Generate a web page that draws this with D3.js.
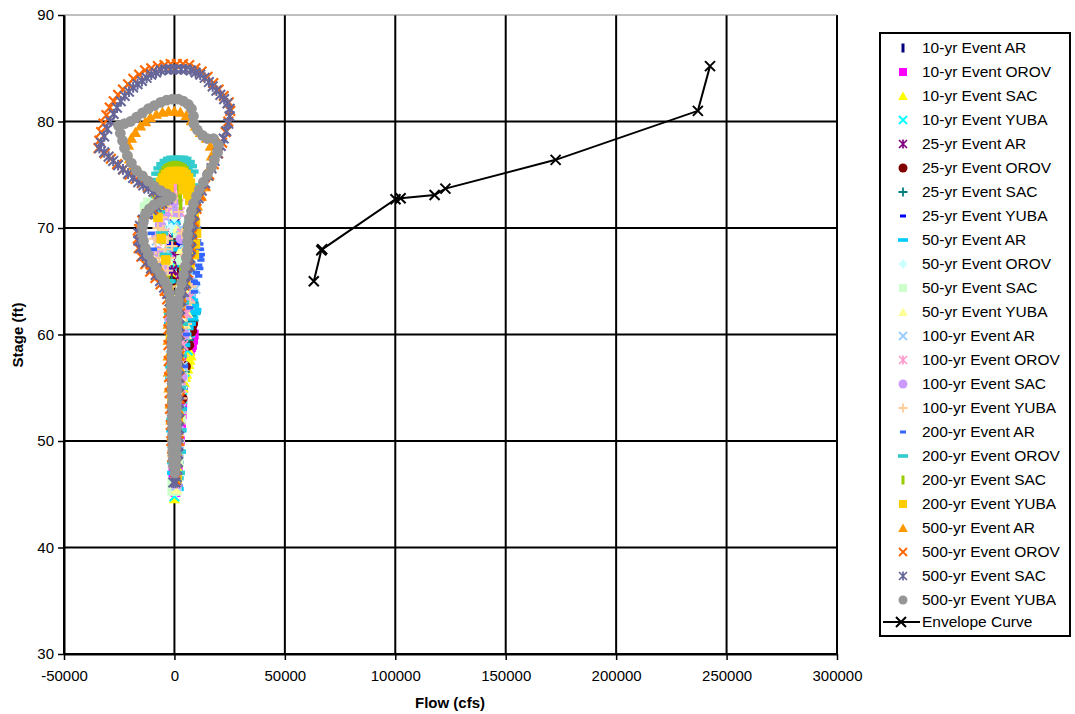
<!DOCTYPE html>
<html>
<head>
<meta charset="utf-8">
<script src="https://cdn.jsdelivr.net/npm/d3@7"></script>
<style>
  html, body { margin: 0; padding: 0; background: #fff; }
  svg { display: block; }
  text { font-family: "Liberation Sans", Arial, sans-serif; fill: #000; }
</style>
</head>
<body>
<svg id="chart" width="1075" height="714"></svg>
<script>
// ---- Stage-flow hysteresis, one array of [flow (cfs), stage (ft)] per event ----
const yr10AR = [[1000,45.8],[2500,52],[3500,58],[3000,63],[2000,66.5],[1500,68.5],[1000,69.5],[500,70],[0,69.8],[-500,68.5],[-1000,66],[-1200,62],[-1000,56],[-800,50]];
const yr10OROV = [[500,45.2],[1500,47.5],[2500,50],[3000,51.5],[3300,52.5],[3600,53.5],[4000,55],[5000,57],[6000,58],[7000,58.5],[7500,58.8],[8000,59.0],[8500,59.5],[8800,60.0],[8000,60.5],[6500,62],[5000,63.5],[3500,65],[2000,66.5],[1000,67.5],[0,67.8],[-1000,67],[-1500,65],[-1500,62],[-1200,58],[-1000,54],[-800,50],[-500,47]];
const yr10SAC = [[0,44.6],[700,45.5],[1500,47.5],[2200,50],[2500,51.2],[2800,52.5],[3000,53],[3500,54],[4000,55],[4500,55.5],[5000,56],[5500,56.3],[6000,56.8],[6500,57.2],[7000,57.6],[7500,58.0],[7000,58.4],[6500,59.5],[5000,61],[3500,63],[2000,65],[800,66.5],[-200,66.8],[-1000,65.5],[-1300,62],[-1200,58],[-1000,54],[-700,50],[-300,46.5]];
const yr10YUBA = [[0,44.8],[800,46],[1500,48.5],[2500,51.5],[3500,54],[4500,56.5],[6000,58.5],[6500,59.5],[7000,60.2],[7500,60.8],[8000,61.4],[8500,62.0],[7500,62.8],[6500,63.5],[5000,65],[3000,66.5],[1500,67.5],[0,67.8],[-1000,66.5],[-1500,63],[-1300,58],[-1000,53],[-700,49],[-300,46]];
const yr25AR = [[500,46],[1500,50],[2500,55],[3000,60],[2500,63],[2000,65.5],[1500,66.5],[1000,67.3],[800,68.0],[700,68.7],[600,69.4],[500,70.0],[300,70.5],[-200,70.3],[-800,69],[-1200,66],[-1300,62],[-1000,56],[-700,50]];
const yr25OROV = [[500,45.8],[2000,50],[3500,54],[5000,57],[6500,59],[7800,60.3],[8300,61.0],[7500,62.3],[5500,64],[3500,66],[2000,68],[800,69.5],[0,69.8],[-800,68.5],[-1300,65],[-1300,60],[-1000,54],[-700,49]];
const yr25SAC = [[300,45.5],[1500,49],[3000,53],[4500,56.5],[6500,59.5],[8500,61.3],[9500,62.0],[8500,63.0],[6500,64.5],[4500,66],[2500,68],[1000,69.5],[0,70],[-800,68.8],[-1300,65],[-1300,60],[-1000,54],[-600,49]];
const yr25YUBA = [[2000,45.8],[2500,48],[3000,52],[3500,56],[4500,60],[4500,63],[3500,66],[2500,68.5],[1800,69.8],[800,70.2],[-200,70.2],[-1200,69.8],[-2000,68.5],[-2300,66],[-2000,62],[-1500,57],[-1000,52],[-600,48]];
const yr50AR = [[1500,45.5],[2000,47],[2500,49],[2800,51],[3000,53],[3200,55],[3500,57],[4500,59],[5000,60],[6000,60.6],[7000,61],[8000,61.5],[9000,62],[9500,62.3],[8500,62.7],[8000,63.2],[7000,63.6],[6000,64],[5000,64.6],[4000,66.5],[2500,68],[1200,69.5],[0,70.5],[-1000,70.0],[-1800,68],[-2200,65],[-2000,61],[-1500,56],[-1000,51],[-600,47]];
const yr50OROV = [[1000,45.3],[2500,50],[3500,55],[4500,60],[4000,64],[2500,67],[1000,70],[0,71],[-1500,70],[-2500,67],[-2000,62],[-1500,56],[-800,50]];
const yr50SAC = [[-1000,45.3],[1000,45.3],[0,45.8],[-1000,46.1],[1000,46.1],[2000,48],[3000,52],[4000,56],[5000,60],[4500,64],[3000,67],[1500,69.5],[0,71.3],[-3000,71.8],[-8000,72.2],[-13500,72.0],[-12000,72.4],[-6000,70],[-3000,67],[-2200,63],[-1700,58],[-1200,52],[-800,48]];
const yr50YUBA = [[800,45.5],[2000,49],[3000,53],[4000,57],[5000,61],[5500,60],[6000,62],[6500,62.8],[6000,63.5],[5500,64.3],[4500,66],[3000,68],[1500,70],[0,71.3],[-2000,71.8],[-4000,71.8],[-6000,71.5],[-8000,71.2],[-7000,70.3],[-5000,69],[-3000,67],[-2000,64],[-1800,60],[-1300,55],[-800,50]];
const yr100AR = [[1000,45.8],[2000,49],[3000,53],[3800,57],[4500,60],[4500,62],[5500,62.8],[6500,63.5],[7500,64],[8500,64.6],[9500,64.3],[9000,65.2],[8500,65.8],[7500,66.4],[6000,67.2],[4500,68.5],[3000,70],[1500,71.5],[0,72.2],[-2000,72.0],[-4000,71.0],[-6000,70.0],[-8000,68.8],[-7000,67.5],[-5000,66],[-3000,64.5],[-2000,62],[-1600,58],[-1200,53],[-800,49]];
const yr100OROV = [[800,46],[2000,50],[3000,55],[4000,59],[5500,62],[7000,63.5],[6500,65],[5000,67],[3500,69.5],[2500,71.5],[1800,73.0],[1500,73.8],[1000,74.2],[0,74.0],[-1500,73.0],[-3000,71.5],[-4500,69.5],[-5000,67],[-3500,64.5],[-2200,62],[-1600,57],[-1200,52],[-700,48]];
const yr100SAC = [[1000,46],[2500,51],[3500,56],[4500,60],[5000,63],[4500,66],[3000,69],[1500,71.5],[0,72.5],[-2000,72.3],[-4500,71.2],[-6500,70.3],[-8000,69.2],[-7500,67.8],[-5500,66.2],[-3500,64.5],[-2200,61.5],[-1600,57],[-1100,52],[-700,48]];
const yr100YUBA = [[1000,46],[2200,50],[3200,54],[4200,58],[5500,61],[7000,63],[7500,64.5],[6500,66],[5000,67.5],[3500,69.5],[2000,71.5],[500,72.8],[-1500,72.8],[-3500,72.0],[-5500,71.0],[-7500,70.0],[-9000,69.0],[-8500,68.0],[-7000,67.2],[-5000,66.6],[-3000,66.0],[-2000,64.5],[-1800,62],[-1500,58],[-1200,53],[-800,49],[-6000,68.8],[-4000,68.0],[-2000,67.2],[-5000,69.8],[-3000,69.0],[-1000,68.3]];
const yr200AR = [[1500,46],[2500,49],[3500,53],[4500,57],[5500,60],[7000,62.5],[9000,64],[9000,65],[10000,64.8],[10000,65.8],[11000,65.5],[11000,66.5],[11500,66.2],[11500,67.3],[12000,67],[12200,67.5],[11800,68.0],[11000,68],[11500,68.5],[10500,68.8],[10500,70],[9500,71.5],[8000,73],[6000,74.5],[3500,75.2],[1000,75.5],[-1500,75.3],[-4000,74.5],[-6500,73.5],[-8500,72.3],[-10000,71],[-10500,69.5],[-9500,68],[-7500,66.5],[-5000,65.2],[-3000,64],[-2200,61],[-1800,57],[-1300,52],[-800,48]];
const yr200OROV = [[1500,46.5],[2000,47],[2200,49],[2300,51],[2400,53],[2500,55],[3000,58],[3500,61],[4000,63],[5500,66],[6500,68.5],[7000,70.5],[7500,72.5],[8200,74.0],[8200,75.3],[7500,75.8],[6500,76.2],[5000,76.5],[3500,76.6],[2000,76.6],[500,76.6],[-1000,76.6],[-2500,76.5],[-4000,76.3],[-5500,76.0],[-6800,75.6],[-7800,75.1],[-8400,74.5],[-8600,73.8],[7000,75.0],[5500,75.5],[4000,75.9],[2500,76.1],[1000,76.2],[-500,76.2],[-2000,76.1],[-3500,75.9],[-5000,75.6],[-6500,75.1],[-7500,74.5],[-8000,73.0],[-7000,71.5],[-5500,69.5],[-4000,67.5],[-2800,65],[-2000,62],[-1500,57],[-1000,52],[-600,48]];
const yr200SAC = [[1000,47],[1500,52],[1800,57],[2000,62],[3000,66],[5000,70],[6500,73],[7400,74.6],[6600,75.0],[5700,75.3],[4800,75.5],[3900,75.6],[3000,75.7],[2100,75.75],[1200,75.8],[300,75.8],[-600,75.8],[-1500,75.75],[-2400,75.7],[-3300,75.6],[-4200,75.5],[-5100,75.3],[-6000,75.0],[-6800,74.6],[-7400,74.1],[2000,74.0],[2300,73.4],[2600,72.8],[2800,72.2],[-7000,72.5],[-5000,69],[-3000,65],[-1500,60],[-1000,53],[-500,48]];
const yr200YUBA = [[1200,46.5],[1800,52],[2200,58],[3000,63],[5000,65],[7000,66.5],[9000,67.5],[9500,68.5],[10000,69.5],[9500,70.5],[9000,71.5],[7500,73.6],[7200,74.2],[6400,74.7],[5300,75.0],[4000,75.2],[2700,75.3],[1400,75.3],[100,75.3],[-1200,75.3],[-2500,75.2],[-3800,75.0],[-5100,74.7],[-6300,74.3],[-7300,73.8],[-7900,73.2],[5500,74.2],[3500,74.5],[-500,74.6],[-2500,74.5],[-4500,74.2],[-6000,73.7],[4000,73.6],[6000,73.2],[7000,72.6],[-2500,73.6],[-4500,73.8],[-6500,73.4],[-5000,73.0],[-6500,72.2],[-7500,71],[-6000,69],[-4000,67],[-2500,64],[-1800,60],[-1200,54],[-700,49]];
const yr500AR = [[500,47.5],[1200,49],[1600,51],[1800,53],[1900,55],[2000,57],[2000,59],[2100,61],[2300,63],[2700,64.2],[4500,65.6],[6300,67.0],[7200,68.4],[7700,69.8],[8600,70.9],[10400,72.1],[12200,73.0],[14000,73.9],[15400,74.9],[16300,75.8],[16800,76.8],[16300,77.7],[14500,78.45],[11800,79.0],[9500,79.6],[7700,80.1],[5400,80.6],[2700,80.9],[0,81.0],[-2700,81.0],[-5400,80.9],[-8200,80.7],[-10900,80.4],[-13100,80.0],[-15400,79.6],[-17700,79.0],[-19500,78.45],[-20800,77.8],[-21300,77.1],[-20400,76.5],[-18600,75.9],[-15900,75.35],[-13100,74.8],[-10400,74.3],[-7700,73.85],[-5000,73.5],[-2300,73.1],[-5400,72.5],[-8600,72.3],[-11300,71.9],[-13600,71.3],[-14900,70.7],[-15400,70.0],[-14900,69.25],[-14000,68.5],[-12200,67.8],[-10400,67.2],[-8200,66.5],[-5900,65.9],[-4100,65.2],[-2700,64.6],[-2300,63.8],[-2600,62.5],[-2800,61],[-2800,59.5],[-2800,58],[-2700,56.5],[-2400,55],[-2000,53.5],[-1600,52],[-1200,50.5],[-800,49]];
const yr500OROV = [[500,46.3],[1500,48],[2000,50],[2200,52],[2300,54],[2300,56],[2300,58],[2400,60],[2600,62],[3200,63.5],[4500,64.6],[6000,65.8],[7000,67.0],[7500,68.2],[8000,69.4],[8800,70.6],[10000,71.8],[11800,73.0],[13800,74.0],[15800,75.0],[17800,76.0],[19800,77.0],[21600,78.0],[23200,79.0],[24400,80.0],[25300,81.0],[24600,81.8],[22300,82.4],[20000,83.0],[17600,83.6],[15000,84.2],[12300,84.7],[9500,85.0],[6700,85.3],[3900,85.4],[1100,85.4],[-1700,85.4],[-4500,85.3],[-7500,85.2],[-10500,85.0],[-13300,84.8],[-16000,84.4],[-18600,84.0],[-21000,83.5],[-23300,83.0],[-25500,82.5],[-27500,81.9],[-29300,81.3],[-30800,80.6],[-32100,79.8],[-33200,79.0],[-34000,78.2],[-34400,77.5],[-31500,77.0],[-28800,76.5],[-26000,76.0],[-23200,75.5],[-20400,75.0],[-17600,74.6],[-14800,74.2],[-12000,73.8],[-9200,73.4],[-6400,73.1],[-3800,72.8],[-6600,72.2],[-9600,71.8],[-12400,71.3],[-14600,70.7],[-16000,69.9],[-16600,69.0],[-16200,68.1],[-15000,67.3],[-13200,66.6],[-11000,65.9],[-8600,65.3],[-6300,64.7],[-4400,64.1],[-3300,63.3],[-2800,62.0],[-2700,60.5],[-2700,59.0],[-2600,57.5],[-2400,56.0],[-2200,54.5],[-2000,53.0],[-1700,51.5],[-1400,50.0],[-1000,48.5]];
const yr500SAC = [[-500,46.1],[500,46.1],[1000,46.6],[1300,47.3],[1500,48.0],[1700,48.8],[1800,49.6],[1900,50.4],[1900,51.2],[2000,52.0],[2000,52.8],[2000,53.6],[2000,54.4],[2000,55.2],[2000,56.0],[2000,56.8],[2000,57.6],[2000,58.4],[2000,59.2],[2100,60.0],[2100,60.8],[2300,61.6],[2600,62.4],[3200,63.2],[4300,64.0],[5200,64.8],[6100,65.6],[6800,66.4],[7200,67.2],[7500,68.0],[7700,68.8],[8000,69.6],[8400,70.4],[9000,71.2],[9800,72.0],[11000,72.8],[12400,73.5],[13900,74.2],[15400,74.9],[16800,75.6],[18200,76.3],[19600,77.0],[21000,77.7],[22300,78.4],[23500,79.1],[24400,79.8],[25000,80.5],[25000,81.2],[24000,81.7],[22500,82.1],[20800,82.5],[19000,82.9],[17300,83.3],[15600,83.7],[13700,84.1],[11700,84.4],[9600,84.6],[7400,84.8],[5200,84.9],[3000,84.9],[700,84.9],[-1600,84.9],[-3900,84.9],[-6100,84.8],[-8300,84.6],[-10500,84.4],[-12600,84.1],[-14700,83.8],[-16700,83.5],[-18700,83.2],[-20600,82.8],[-22500,82.4],[-24300,81.9],[-26000,81.3],[-27500,80.7],[-29000,80.0],[-30400,79.3],[-31800,78.6],[-33200,78.0],[-34000,77.5],[-31800,77.1],[-29800,76.7],[-27700,76.3],[-25500,75.9],[-23300,75.5],[-21000,75.1],[-18700,74.7],[-16400,74.3],[-14100,74.0],[-11800,73.7],[-9500,73.4],[-7200,73.1],[-5000,72.9],[-3000,72.7],[-5500,72.3],[-8000,72.0],[-10300,71.7],[-12400,71.3],[-14200,70.8],[-15600,70.2],[-16300,69.5],[-16300,68.8],[-15600,68.1],[-14300,67.4],[-12600,66.8],[-10600,66.2],[-8500,65.6],[-6500,65.0],[-4700,64.4],[-3300,63.8],[-2200,63.1],[-1500,62.3],[-1300,61.0],[-1200,59.7],[-1100,58.4],[-1000,57.1],[-1000,55.8],[-900,54.5],[-900,53.2],[-800,51.9],[-700,50.6],[-600,49.3],[-400,48.0]];
const yr500YUBA = [[300,47.0],[500,47.6],[600,48.2],[700,48.8],[700,49.4],[800,50.0],[800,50.6],[900,51.2],[900,51.8],[900,52.4],[900,53.0],[1000,53.6],[1000,54.2],[1000,54.8],[1000,55.4],[1000,56.0],[1100,56.6],[1100,57.2],[1100,57.8],[1100,58.4],[1100,59.0],[1100,59.6],[1200,60.2],[1200,60.8],[1200,61.4],[1300,62.0],[1500,62.6],[1700,63.2],[2300,64.0],[3200,64.8],[4100,65.6],[5000,66.4],[5400,67.2],[5900,67.9],[5900,68.7],[5900,69.4],[6300,70.2],[6800,70.9],[7700,71.6],[8600,72.3],[10000,73.0],[11300,73.6],[13100,74.3],[14900,75.0],[16800,75.7],[18100,76.4],[19500,77.1],[19900,77.8],[17700,78.4],[14900,78.4],[12700,78.7],[10400,79.2],[8800,79.8],[8600,80.5],[7700,81.2],[6300,81.6],[4100,81.9],[1800,82.1],[-900,82.1],[-3600,82.0],[-6300,81.8],[-9100,81.5],[-11800,81.2],[-14500,80.8],[-17200,80.4],[-19900,80.0],[-22600,79.8],[-25300,79.6],[-24500,78.9],[-23500,78.2],[-22600,77.5],[-21300,76.8],[-19500,76.1],[-17200,75.4],[-14500,74.9],[-11800,74.4],[-9100,73.9],[-6300,73.5],[-3600,73.2],[-1400,72.9],[-3600,72.6],[-6300,72.4],[-9100,72.2],[-11300,71.8],[-13100,71.3],[-14000,70.7],[-14500,70.1],[-14500,69.4],[-14000,68.8],[-13100,68.1],[-11800,67.5],[-10000,66.8],[-8200,66.2],[-6300,65.6],[-4500,65.0],[-3200,64.5],[-2300,63.9],[-1700,63.2],[-1400,62.6],[-1300,62.0],[-1200,61.4],[-1200,60.8],[-1200,60.2],[-1100,59.6],[-1100,59.0],[-1100,58.4],[-1100,57.8],[-1100,57.2],[-1000,56.6],[-1000,56.0],[-1000,55.4],[-1000,54.8],[-1000,54.2],[-900,53.6],[-900,53.0],[-900,52.4],[-900,51.8],[-800,51.2],[-800,50.6],[-700,50.0],[-700,49.4],[-600,48.8],[-500,48.2],[-300,47.6]];

// Envelope curve
const envelopeFlow  = [63100, 66500, 66900, 100100, 102400, 117800, 122700, 172600, 237000, 242500];
const envelopeStage = [65.0, 67.9, 68.0, 72.7, 72.8, 73.1, 73.7, 76.4, 81.0, 85.2];

const seriesNames = [
  "10-yr Event AR","10-yr Event OROV","10-yr Event SAC","10-yr Event YUBA",
  "25-yr Event AR","25-yr Event OROV","25-yr Event SAC","25-yr Event YUBA",
  "50-yr Event AR","50-yr Event OROV","50-yr Event SAC","50-yr Event YUBA",
  "100-yr Event AR","100-yr Event OROV","100-yr Event SAC","100-yr Event YUBA",
  "200-yr Event AR","200-yr Event OROV","200-yr Event SAC","200-yr Event YUBA",
  "500-yr Event AR","500-yr Event OROV","500-yr Event SAC","500-yr Event YUBA"
];
const seriesValues = [
  yr10AR, yr10OROV, yr10SAC, yr10YUBA,
  yr25AR, yr25OROV, yr25SAC, yr25YUBA,
  yr50AR, yr50OROV, yr50SAC, yr50YUBA,
  yr100AR, yr100OROV, yr100SAC, yr100YUBA,
  yr200AR, yr200OROV, yr200SAC, yr200YUBA,
  yr500AR, yr500OROV, yr500SAC, yr500YUBA
];
const envelopeName = "Envelope Curve";

const xTickValues = [-50000, 0, 50000, 100000, 150000, 200000, 250000, 300000];
const yTickValues = [30, 40, 50, 60, 70, 80, 90];
const xTitle = "Flow (cfs)";
const yTitle = "Stage (ft)";

// ---- marker styling ----
const seriesColors = [
  "#000080","#FF00FF","#FFFF00","#00FFFF",
  "#800080","#800000","#008080","#0000FF",
  "#00CCFF","#CCFFFF","#CCFFCC","#FFFF99",
  "#99CCFF","#FF99CC","#CC99FF","#FFCC99",
  "#3366FF","#33CCCC","#99CC00","#FFCC00",
  "#FF9900","#FF6600","#666699","#969696"
];
const seriesSymbols = [
  "vbar","square","triangle","x",
  "star","circle","plus","sdash",
  "ldash","diamond","square","triangle",
  "x","star","circle","plus",
  "sdash","ldash","vbar","square",
  "triangle","x","star","circle"
];

function drawMarker(g, type, color) {
  switch (type) {
    case "vbar":
      g.append("rect").attr("x", -1.5).attr("y", -4.5).attr("width", 3).attr("height", 9).attr("fill", color); break;
    case "square":
      g.append("rect").attr("x", -4).attr("y", -4).attr("width", 8).attr("height", 8).attr("fill", color); break;
    case "triangle":
      g.append("path").attr("d", "M0,-4.5L4.8,4L-4.8,4Z").attr("fill", color); break;
    case "diamond":
      g.append("path").attr("d", "M0,-5L4.5,0L0,5L-4.5,0Z").attr("fill", color); break;
    case "circle":
      g.append("circle").attr("r", 4.5).attr("fill", color); break;
    case "sdash":
      g.append("rect").attr("x", -3).attr("y", -1.5).attr("width", 6).attr("height", 3).attr("fill", color); break;
    case "ldash":
      g.append("rect").attr("x", -5).attr("y", -1.8).attr("width", 10).attr("height", 3.6).attr("fill", color); break;
    case "x":
      g.append("path").attr("d", "M-4,-4L4,4M-4,4L4,-4").attr("stroke", color).attr("stroke-width", 1.8).attr("fill", "none"); break;
    case "plus":
      g.append("path").attr("d", "M-4.5,0L4.5,0M0,-4.5L0,4.5").attr("stroke", color).attr("stroke-width", 1.8).attr("fill", "none"); break;
    case "star":
      g.append("path").attr("d", "M-4,-4L4,4M-4,4L4,-4M0,-4.5L0,4.5").attr("stroke", color).attr("stroke-width", 1.7).attr("fill", "none"); break;
  }
}

// ---- layout ----
const svg = d3.select("#chart");
const plot = { left: 64, right: 837, top: 15, bottom: 654 };
const plotMarkerScale = 1.2;

const x = d3.scaleLinear().domain([-50000, 300000]).range([plot.left, plot.right]);
const y = d3.scaleLinear().domain([30, 90]).range([plot.bottom, plot.top]);

// grid
const grid = svg.append("g");
grid.selectAll("line.v").data(xTickValues).join("line")
  .attr("x1", d => x(d)).attr("x2", d => x(d))
  .attr("y1", plot.top).attr("y2", plot.bottom)
  .attr("stroke", "#000").attr("stroke-width", 2);
grid.selectAll("line.h").data(yTickValues).join("line")
  .attr("x1", plot.left).attr("x2", plot.right)
  .attr("y1", d => y(d)).attr("y2", d => y(d))
  .attr("stroke", d => d === 90 ? "#808080" : "#000")
  .attr("stroke-width", d => d === 90 ? 1 : 2);

// axes
const xAxis = svg.append("g").attr("transform", `translate(0,${plot.bottom})`)
  .call(d3.axisBottom(x).tickValues(xTickValues).tickFormat(d => String(d)).tickSize(6).tickSizeOuter(0));
const yAxis = svg.append("g").attr("transform", `translate(${plot.left},0)`)
  .call(d3.axisLeft(y).tickValues(yTickValues).tickFormat(d => String(d)).tickSize(6).tickSizeOuter(0));
[xAxis, yAxis].forEach(a => {
  a.select(".domain").attr("stroke", "#000").attr("stroke-width", 2);
  a.selectAll(".tick line").attr("stroke", "#000").attr("stroke-width", 1.5);
  a.selectAll(".tick text").attr("font-size", 15).attr("font-family", "Liberation Sans, Arial, sans-serif").attr("fill", "#000");
});
xAxis.selectAll(".tick text").attr("dy", "0.71em").attr("y", 16);
yAxis.selectAll(".tick text").attr("x", -10);

svg.append("text").attr("x", 450).attr("y", 708).attr("text-anchor", "middle")
  .attr("font-size", 15).attr("font-weight", "bold").text(xTitle);
svg.append("text").attr("transform", "translate(23,335) rotate(-90)").attr("text-anchor", "middle")
  .attr("font-size", 15).attr("font-weight", "bold").text(yTitle);

// series markers, drawn in legend order so later events sit on top
const marks = svg.append("g");
seriesValues.forEach((pts, i) => {
  const g = marks.append("g");
  pts.forEach(p => {
    const m = g.append("g").attr("transform", `translate(${x(p[0])},${y(p[1])}) scale(${plotMarkerScale})`);
    drawMarker(m, seriesSymbols[i], seriesColors[i]);
  });
});

// envelope curve
const env = envelopeFlow.map((f, i) => [f, envelopeStage[i]]);
svg.append("path").datum(env)
  .attr("d", d3.line().x(d => x(d[0])).y(d => y(d[1])))
  .attr("fill", "none").attr("stroke", "#000").attr("stroke-width", 2);
env.forEach(p => {
  svg.append("path").attr("transform", `translate(${x(p[0])},${y(p[1])})`)
    .attr("d", "M-5,-5L5,5M-5,5L5,-5").attr("stroke", "#000").attr("stroke-width", 2).attr("fill", "none");
});

// legend
const legend = svg.append("g");
legend.append("rect").attr("x", 880).attr("y", 33).attr("width", 190).attr("height", 603)
  .attr("fill", "#fff").attr("stroke", "#000").attr("stroke-width", 2);
const rowY = i => 48 + i * 24;
seriesNames.forEach((name, i) => {
  const m = legend.append("g").attr("transform", `translate(903,${rowY(i)})`);
  drawMarker(m, seriesSymbols[i], seriesColors[i]);
  legend.append("text").attr("x", 922).attr("y", rowY(i)).attr("dy", "0.35em")
    .attr("font-size", 15.5).text(name);
});
const ey = rowY(seriesNames.length) - 2;
legend.append("line").attr("x1", 883).attr("x2", 920).attr("y1", ey).attr("y2", ey)
  .attr("stroke", "#000").attr("stroke-width", 2);
legend.append("path").attr("transform", `translate(901,${ey})`)
  .attr("d", "M-5,-5L5,5M-5,5L5,-5").attr("stroke", "#000").attr("stroke-width", 2);
legend.append("text").attr("x", 922).attr("y", ey).attr("dy", "0.35em")
  .attr("font-size", 15.5).text(envelopeName);
</script>
</body>
</html>
